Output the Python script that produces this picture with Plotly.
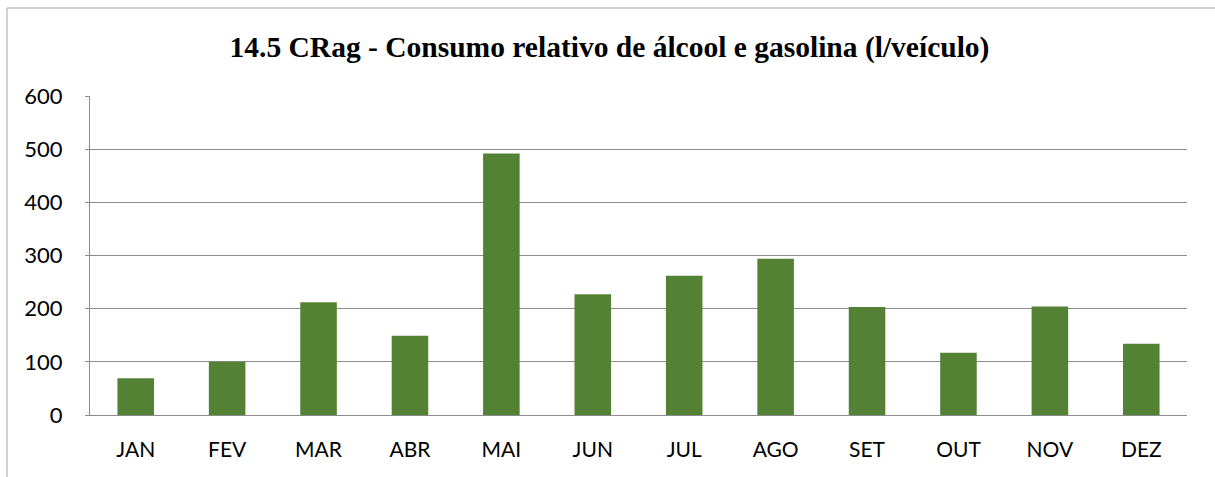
import plotly.graph_objects as go

months = ["JAN", "FEV", "MAR", "ABR", "MAI", "JUN", "JUL", "AGO", "SET", "OUT", "NOV", "DEZ"]
consumo = [69, 100, 212, 149, 492, 227, 262, 294, 203, 117, 204, 134]
y_ticks = [0, 100, 200, 300, 400, 500, 600]
title_text = "14.5 CRag - Consumo relativo de álcool e gasolina (l/veículo)"

fig = go.Figure()
fig.add_trace(go.Bar(
    x=months, y=consumo,
    marker=dict(color="#548235", line=dict(width=0)),
    width=0.4,
))

W, H = 1215, 477
L, R, T, B = 90, 28, 96, 62
pw, ph = W - L - R, H - T - B

fig.update_layout(
    width=W, height=H,
    margin=dict(l=L, r=R, t=T, b=B, autoexpand=False),
    paper_bgcolor="white", plot_bgcolor="white",
    showlegend=False,
    title=dict(text="<b>" + title_text + "</b>", x=609.5 / W, xref="container", xanchor="center",
               y=1 - 47 / H, yref="container", yanchor="middle",
               font=dict(family="Liberation Serif, Times New Roman, serif", size=29.5, color="black")),
    font=dict(family="Lato, Carlito, sans-serif", size=22, color="black"),
)

fig.update_xaxes(
    showgrid=False, showline=True, linecolor="#8c8c8c", linewidth=1, automargin=False,
    ticks="", ticklabelstandoff=16, tickfont=dict(size=21),
)
fig.update_yaxes(
    range=[0, 600], tickvals=y_ticks, showgrid=True, gridcolor="#8c8c8c", gridwidth=1,
    showline=True, linecolor="#8c8c8c", linewidth=1, zeroline=False, automargin=False,
    ticks="outside", ticklen=4, tickcolor="#8c8c8c", ticklabelstandoff=18,
)

# outer chart border (left and top visible)
x0 = (7 - L) / pw
x1 = (W + 5 - L) / pw
y1 = 1 + (T - 8) / ph
y0 = -(H + 5 - (T + ph)) / ph
fig.add_shape(type="rect", xref="paper", yref="paper", x0=x0, x1=x1, y0=y0, y1=y1,
              line=dict(color="#a6a6a6", width=1), fillcolor="rgba(0,0,0,0)", layer="below")

fig.write_html("out.html", config={"displayModeBar": False},
               post_script="document.body.style.margin='0px';document.body.style.overflow='hidden';")
